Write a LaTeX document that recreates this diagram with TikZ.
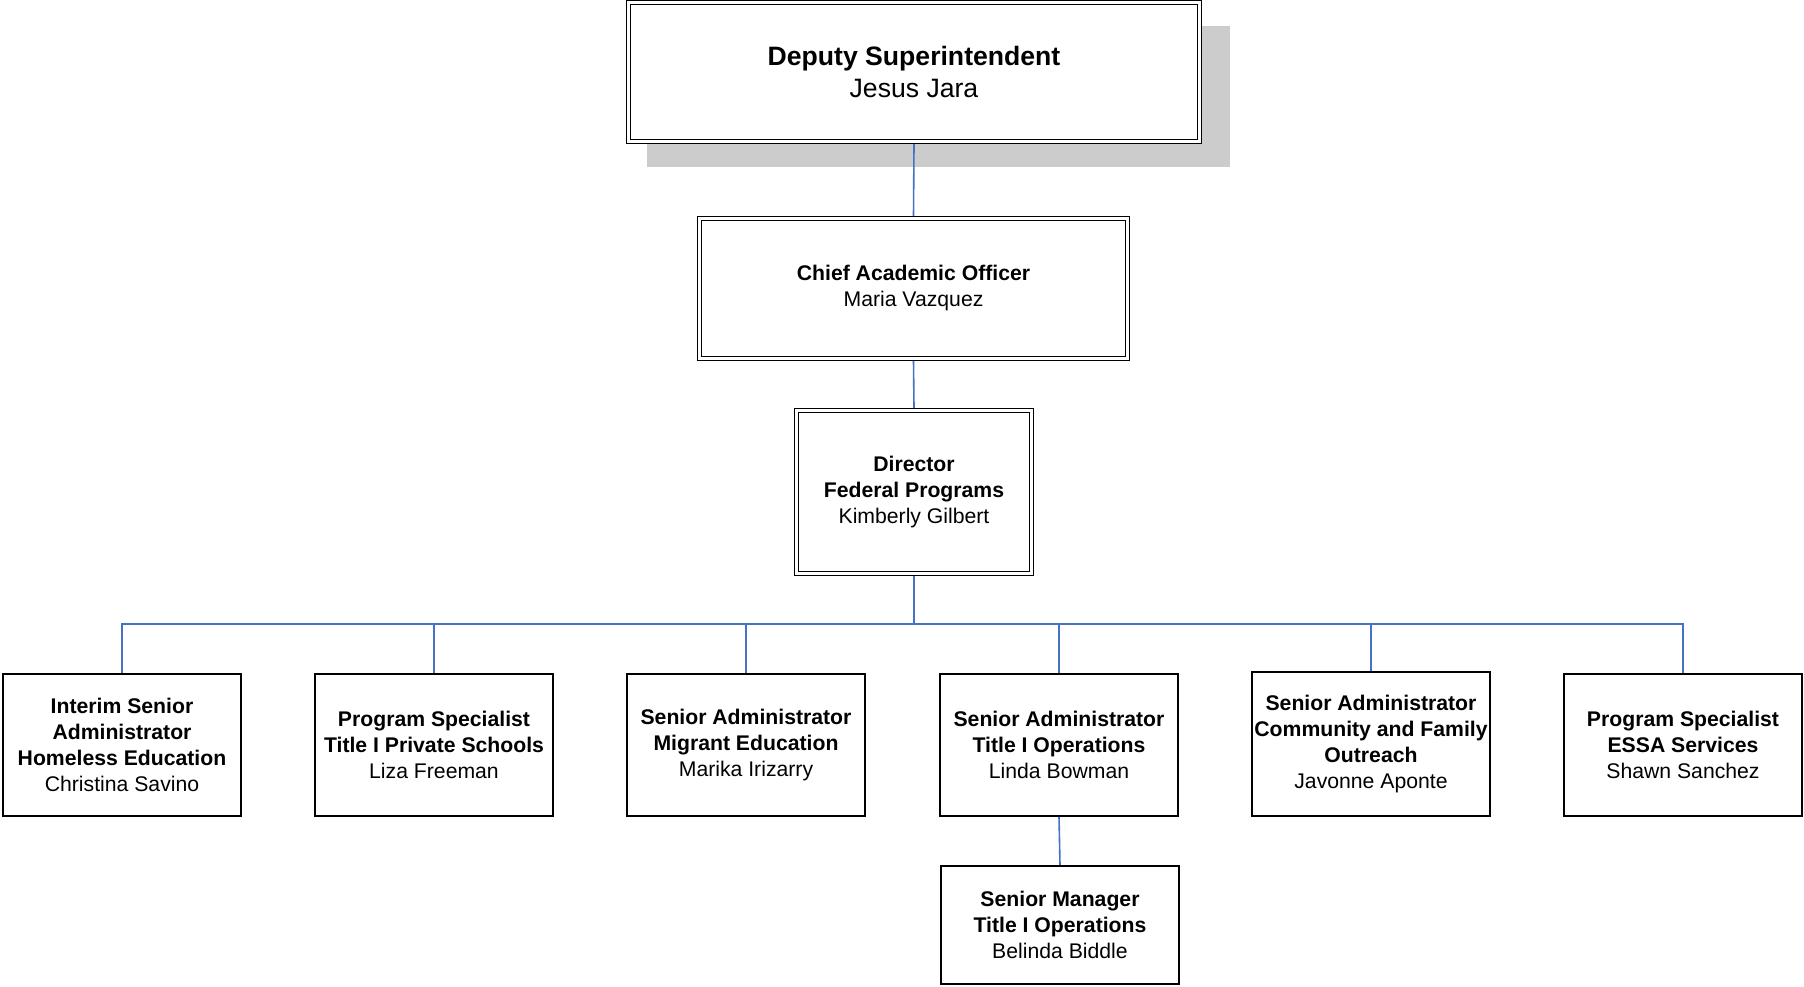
\documentclass[tikz,border=0pt]{standalone}
\usepackage{fontspec}
\setmainfont{Liberation Sans}
\usetikzlibrary{shadows}
\definecolor{linkblue}{HTML}{4472C4}
\definecolor{shadowgray}{HTML}{CCCCCC}

\begin{document}
\begin{tikzpicture}[x=1pt,y=-1pt,
    dbox/.style={draw,double,double distance=2.5pt,line width=1.3pt,fill=white,inner sep=0pt,outer sep=2.55pt,align=center,font=\fontsize{21.2}{26}\selectfont},
    box/.style={draw,line width=2pt,fill=white,minimum width=238pt,minimum height=142pt,inner sep=0pt,align=center,font=\fontsize{21.2}{26}\selectfont},
    link/.style={draw=linkblue,line width=1.6pt}]
        \useasboundingbox (0,0) rectangle (1804,987);
        \node[dbox,minimum width=571pt,minimum height=139pt,font=\fontsize{26.6}{31.5}\selectfont,
            drop shadow={fill=shadowgray,opacity=1,shadow scale=1.02,shadow xshift=24pt,shadow yshift=-24pt}] (dep) at (914,72)
            {\textbf{Deputy Superintendent}\\Jesus Jara};
        \node[dbox,minimum width=428pt,minimum height=140pt] (cao) at (913.5,288.5)
            {\textbf{Chief Academic Officer}\\Maria Vazquez};
        \node[dbox,minimum width=235pt,minimum height=163pt] (dir) at (914,492)
            {\textbf{Director}\\\textbf{Federal Programs}\\Kimberly Gilbert};
        \node[box] (hom) at (122,745)
            {\textbf{Interim Senior}\\\textbf{Administrator}\\\textbf{Homeless Education}\\Christina Savino};
        \node[box] (pri) at (434,745)
            {\textbf{Program Specialist}\\\textbf{Title I Private Schools}\\Liza Freeman};
        \node[box] (mig) at (746,745)
            {\textbf{Senior Administrator}\\\textbf{Migrant Education}\\Marika Irizarry};
        \node[box] (ops) at (1059,745)
            {\textbf{Senior Administrator}\\\textbf{Title I Operations}\\Linda Bowman};
        \node[box,minimum height=144pt] (com) at (1371,744)
            {\textbf{Senior Administrator}\\\textbf{Community and Family}\\\textbf{Outreach}\\Javonne Aponte};
        \node[box] (essa) at (1683,745)
            {\textbf{Program Specialist}\\\textbf{ESSA Services}\\Shawn Sanchez};
        \node[box,minimum height=118pt] (mgr) at (1060,925)
            {\textbf{Senior Manager}\\\textbf{Title I Operations}\\Belinda Biddle};
        \coordinate (bus) at (914,624);
        \draw[link] (dep.south) -- (cao.north);
        \draw[link] (cao.south) -- (dir.north);
        \foreach \b in {hom,pri,mig,ops,com,essa}
            \draw[link] (dir.south) -- (bus) -| (\b.north);
        \draw[link] (ops.south) -- (mgr.north);
    \end{tikzpicture}
\end{document}
